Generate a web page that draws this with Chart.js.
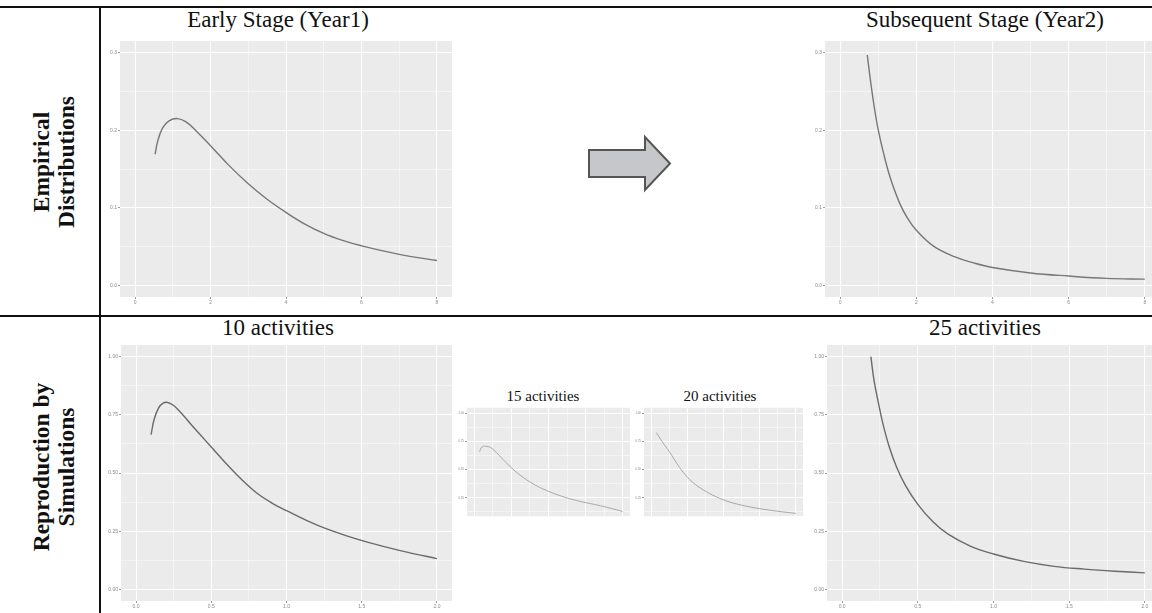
<!DOCTYPE html>
<html>
<head>
<meta charset="utf-8">
<script src="https://cdn.jsdelivr.net/npm/chart.js@4/dist/chart.umd.min.js"></script>
<style>
  html, body { margin: 0; padding: 0; background: #fff; }
  body { width: 1152px; height: 613px; position: relative; overflow: hidden; font-family: "Liberation Serif", "Times New Roman", serif; }
  .hl, .vl { position: absolute; background: #111; }
  .ttl { position: absolute; transform: translateX(-50%); white-space: nowrap; color: #111; line-height: 1; }
  .row { position: absolute; transform: translate(-50%, -50%) rotate(-90deg); font-weight: bold; font-size: 23.5px; line-height: 25px; text-align: center; white-space: nowrap; color: #111; }
  .box { position: absolute; }
</style>
</head>
<body>
<div class="hl" style="left:0;top:6px;width:1152px;height:2px"></div>
<div class="hl" style="left:0;top:315px;width:1152px;height:2px"></div>
<div class="vl" style="left:99px;top:6px;width:2px;height:607px"></div>

<div class="row" style="left:54px;top:162px">Empirical<br>Distributions</div>
<div class="row" style="left:54px;top:467px">Reproduction by<br>Simulations</div>

<div class="ttl" style="left:278px;top:8px;font-size:23px">Early Stage (Year1)</div>
<div class="ttl" style="left:985px;top:8px;font-size:23px">Subsequent Stage (Year2)</div>
<div class="ttl" style="left:278px;top:316px;font-size:23px">10 activities</div>
<div class="ttl" style="left:985px;top:316px;font-size:23px">25 activities</div>
<div class="ttl" style="left:543px;top:389px;font-size:15px">15 activities</div>
<div class="ttl" style="left:720px;top:389px;font-size:15px">20 activities</div>

<svg style="position:absolute;left:0;top:0" width="1152" height="613">
  <polygon points="589,150 645,150 645,137 670,163.5 645,190 645,177 589,177" fill="#c6c7cb" stroke="#555" stroke-width="2" stroke-linejoin="miter"/>
</svg>

<script>
// tick labels
const distXTicks = [0, 2, 4, 6, 8];
const distXLabels = ['0', '2', '4', '6', '8'];
const distXMinor = [1, 3, 5, 7];
const distYTicks = [0, 0.1, 0.2, 0.3];
const distYLabels = ['0.0', '0.1', '0.2', '0.3'];
const distYMinor = [0.05, 0.15, 0.25];
const simXTicks = [0, 0.5, 1, 1.5, 2];
const simXLabels = ['0.0', '0.5', '1.0', '1.5', '2.0'];
const simXMinor = [0.25, 0.75, 1.25, 1.75];
const simYTicks = [0, 0.25, 0.5, 0.75, 1];
const simYLabels = ['0.00', '0.25', '0.50', '0.75', '1.00'];
const simYMinor = [0.125, 0.375, 0.625, 0.875];

// series
const year1X = [0.53, 0.6, 0.73, 0.9, 1.12, 1.34, 1.6, 2.0, 2.48, 3.0, 3.5, 4.0, 4.5, 5.0, 5.5, 6.0, 7.0, 8.0];
const year1Y = [0.169, 0.186, 0.203, 0.212, 0.215, 0.211, 0.200, 0.180, 0.155, 0.131, 0.111, 0.094, 0.079, 0.067, 0.058, 0.051, 0.040, 0.032];
const year2X = [0.71, 0.8, 0.9, 1.0, 1.12, 1.3, 1.56, 1.8, 2.0, 2.44, 3.0, 3.5, 4.0, 5.0, 6.0, 7.0, 8.0];
const year2Y = [0.297, 0.262, 0.228, 0.200, 0.174, 0.141, 0.106, 0.084, 0.071, 0.051, 0.037, 0.029, 0.023, 0.016, 0.012, 0.009, 0.008];
const act10X = [0.1, 0.12, 0.15, 0.18, 0.21, 0.25, 0.3, 0.36, 0.43, 0.5, 0.6, 0.7, 0.8, 0.9, 1.0, 1.2, 1.4, 1.6, 1.8, 2.0];
const act10Y = [0.665, 0.73, 0.78, 0.8, 0.803, 0.79, 0.758, 0.713, 0.662, 0.612, 0.54, 0.473, 0.415, 0.372, 0.338, 0.277, 0.23, 0.192, 0.16, 0.132];
const act15X = [0.07, 0.1, 0.15, 0.22, 0.3, 0.42, 0.6, 0.82, 1.03, 1.23, 1.45, 1.7, 2.0];
const act15Y = [0.66, 0.7, 0.708, 0.695, 0.65, 0.568, 0.46, 0.364, 0.3, 0.253, 0.215, 0.18, 0.13];
const act20X = [0.07, 0.15, 0.26, 0.35, 0.44, 0.57, 0.72, 0.9, 1.09, 1.3, 1.55, 1.8, 2.0];
const act20Y = [0.83, 0.75, 0.651, 0.56, 0.479, 0.39, 0.321, 0.259, 0.212, 0.178, 0.149, 0.127, 0.112];
const act25X = [0.19, 0.21, 0.24, 0.27, 0.31, 0.36, 0.42, 0.5, 0.6, 0.7, 0.85, 1.0, 1.2, 1.4, 1.6, 1.8, 2.0];
const act25Y = [1.0, 0.9, 0.8, 0.71, 0.615, 0.525, 0.445, 0.365, 0.29, 0.237, 0.185, 0.152, 0.12, 0.099, 0.087, 0.078, 0.071];

const panelBg = {
  id: 'panelBg',
  beforeDraw(chart) {
    const a = chart.chartArea, c = chart.ctx;
    c.save();
    c.fillStyle = '#ebebeb';
    c.fillRect(a.left, a.top, a.right - a.left, a.bottom - a.top);
    c.restore();
  }
};

function axis(major, labels, minor, min, max, fitSize, isX, fontPx, showTicks) {
  const isMajor = v => major.some(m => Math.abs(m - v) < 1e-9);
  return {
    type: 'linear',
    min: min,
    max: max,
    afterBuildTicks: s => { s.ticks = major.concat(minor).sort((a, b) => a - b).map(v => ({ value: v })); },
    afterFit: s => { if (isX) s.height = fitSize; else s.width = fitSize; },
    border: { display: false },
    grid: {
      color: '#ffffff',
      lineWidth: ctx => (ctx.tick && isMajor(ctx.tick.value)) ? 1 : 0.5,
      tickColor: ctx => (ctx.tick && isMajor(ctx.tick.value)) ? '#9a9a9a' : 'rgba(0,0,0,0)',
      tickLength: 2,
      drawTicks: showTicks
    },
    ticks: {
      display: showTicks,
      autoSkip: false,
      maxRotation: 0,
      padding: 1,
      color: '#8a8a8a',
      font: { size: fontPx, family: 'Liberation Sans' },
      callback: v => { const i = major.findIndex(m => Math.abs(m - v) < 1e-9); return i >= 0 ? labels[i] : ''; }
    }
  };
}

function panel(p) {
  const YW = p.yw, XH = p.xh, PT = 2, PR = 2;
  const w = p.right - p.left, h = p.bottom - p.top;
  const box = document.createElement('div');
  box.className = 'box';
  box.style.left = (p.left - YW) + 'px';
  box.style.top = (p.top - PT) + 'px';
  const cv = document.createElement('canvas');
  cv.width = w + YW + PR;
  cv.height = h + XH + PT;
  box.appendChild(cv);
  document.body.appendChild(box);
  new Chart(cv, {
    type: 'line',
    data: {
      datasets: [{
        data: p.xs.map((x, i) => ({ x: x, y: p.ys[i] })),
        borderColor: p.color,
        borderWidth: p.lw,
        pointRadius: 0,
        fill: false,
        tension: 0.4
      }]
    },
    options: {
      responsive: false,
      animation: false,
      devicePixelRatio: 1,
      layout: { padding: { top: PT, right: PR, left: 0, bottom: 0 } },
      plugins: { legend: { display: false }, tooltip: { enabled: false } },
      scales: {
        x: axis(p.xt, p.xl, p.xm, p.xmin, p.xmax, XH, true, p.fs, p.showX),
        y: axis(p.yt, p.yl, p.ym, p.ymin, p.ymax, YW, false, p.fs, true)
      }
    },
    plugins: [panelBg]
  });
}

const dist = { xt: distXTicks, xl: distXLabels, xm: distXMinor, xmin: -0.4, xmax: 8.4, showX: true,
  yt: distYTicks, yl: distYLabels, ym: distYMinor, ymin: -0.015, ymax: 0.315, yw: 17, xh: 10, fs: 5, lw: 1.4, color: '#777777' };
const sim = { xt: simXTicks, xl: simXLabels, xm: simXMinor, xmin: -0.1, xmax: 2.1, showX: true,
  yt: simYTicks, yl: simYLabels, ym: simYMinor, ymin: -0.05, ymax: 1.05, yw: 18, xh: 10, fs: 5, lw: 1.4, color: '#6a6a6a' };
// the two small panels are cut off just under the 0.25 line in the figure
const small = { yw: 11, xh: 0, fs: 3, lw: 1, color: '#a8a8a8', ymin: 0.087, ymax: 1.049, showX: false };

panel(Object.assign({}, dist, { left: 120, top: 39, right: 452, bottom: 297, xs: year1X, ys: year1Y }));
panel(Object.assign({}, dist, { left: 825, top: 39, right: 1160, bottom: 297, xs: year2X, ys: year2Y }));
panel(Object.assign({}, sim, { left: 121, top: 343, right: 452, bottom: 601, xs: act10X, ys: act10Y }));
panel(Object.assign({}, sim, { left: 827, top: 343, right: 1160, bottom: 601, xs: act25X, ys: act25Y }));
panel(Object.assign({}, sim, small, { left: 467, top: 407, right: 630, bottom: 519, xs: act15X, ys: act15Y }));
panel(Object.assign({}, sim, small, { left: 644, top: 407, right: 803, bottom: 519, xs: act20X, ys: act20Y }));
</script>
</body>
</html>
